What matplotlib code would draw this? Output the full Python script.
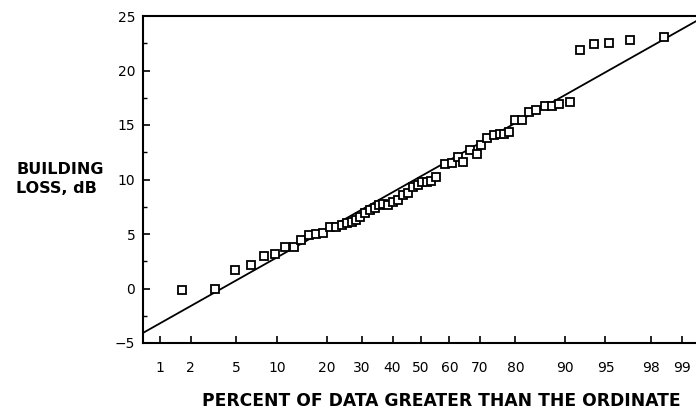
from statistics import NormalDist
import numpy as np
import matplotlib.pyplot as plt

# percent of data greater than the ordinate, and building loss (dB)
percent = [1.65, 3.3, 4.9, 6.5, 8.1, 9.6, 11.2, 12.8, 14.2, 15.9, 17.5, 19.0,
           20.9, 22.4, 24.0, 25.4, 26.8, 28.1, 29.3, 30.9, 32.5, 34.1, 35.5,
           36.8, 38.6, 40.2, 42.0, 43.7, 45.5, 47.3, 49.0, 50.4, 52.0, 53.6,
           55.2, 58.5, 60.8, 63.0, 64.7, 66.9, 69.0, 70.5, 72.2, 74.2, 75.9,
           77.0, 78.4, 79.9, 81.5, 83.3, 84.7, 86.5, 87.8, 89.1, 90.8, 92.2,
           93.9, 95.3, 96.9, 98.5]
loss = [-0.14, 0.0, 1.7, 2.2, 3.0, 3.2, 3.8, 3.8, 4.45, 4.9, 5.0, 5.1,
        5.6, 5.6, 5.8, 6.0, 6.1, 6.3, 6.6, 6.9, 7.2, 7.35, 7.66,
        7.75, 7.66, 7.9, 8.1, 8.6, 8.8, 9.3, 9.5, 9.8, 9.8, 9.9,
        10.25, 11.4, 11.5, 12.1, 11.6, 12.7, 12.3, 13.2, 13.8, 14.1, 14.2,
        14.2, 14.4, 15.5, 15.5, 16.2, 16.4, 16.7, 16.7, 16.9, 17.1, 21.9,
        22.4, 22.5, 22.8, 23.1]

# fitted normal line
fit_mean = 10.3
fit_sd = 5.8

xticks = [1, 2, 5, 10, 20, 30, 40, 50, 60, 70, 80, 90, 95, 98, 99]
xlim = (0.66, 99.29)

nd = NormalDist()
_ppf = np.vectorize(lambda v: nd.inv_cdf(v / 100.0), otypes=[float])
_cdf = np.vectorize(lambda v: nd.cdf(v) * 100.0, otypes=[float])

def fwd(p):
    p = np.clip(np.asarray(p, dtype=float), 1e-6, 100 - 1e-6)
    return _ppf(p)

def inv(z):
    return _cdf(np.asarray(z, dtype=float))

plt.rcParams['font.family'] = ['DejaVu Sans']

fig = plt.figure(figsize=(6.96, 4.12), dpi=100)
ax = fig.add_axes([143 / 696, 1 - 343 / 412, 1 - 143 / 696, (343 - 16) / 412])
ax.set_xscale('function', functions=(fwd, inv))

line_x = np.array(xlim)
line_y = fit_mean + fit_sd * fwd(line_x)
ax.plot(line_x, line_y, color='black', lw=1.3)
ax.plot(percent, loss, ls='none', marker='s', ms=5.2, mfc='white',
        mec='black', mew=1.3)

ax.set_xlim(*xlim)
ax.set_ylim(-5, 25)
ax.set_xticks(xticks)
ax.set_xticklabels([str(t) for t in xticks])
ax.xaxis.set_minor_locator(plt.NullLocator())
ax.set_yticks([-5, 0, 5, 10, 15, 20, 25])
ax.set_yticks(np.arange(-5, 25.1, 2.5), minor=True)
ax.tick_params(axis='both', which='major', direction='in', length=5,
               width=1.2, labelsize=10)
ax.tick_params(axis='y', which='major', pad=5.5)
ax.tick_params(axis='y', which='minor', direction='in', length=3, width=1)
ax.tick_params(axis='x', which='major', pad=13)
ax.spines['right'].set_visible(False)
for s in ['left', 'top', 'bottom']:
    ax.spines[s].set_linewidth(1.5)

fig.text(441 / 696, 1 - 401 / 412, 'PERCENT OF DATA GREATER THAN THE ORDINATE',
         fontsize=12.3, fontweight='bold', ha='center', va='center')
fig.text(16 / 696, 1 - 179 / 412, 'BUILDING\nLOSS, dB', fontsize=11.5,
         fontweight='bold', ha='left', va='center', linespacing=1.35)

fig.savefig('out.png', dpi=100)
